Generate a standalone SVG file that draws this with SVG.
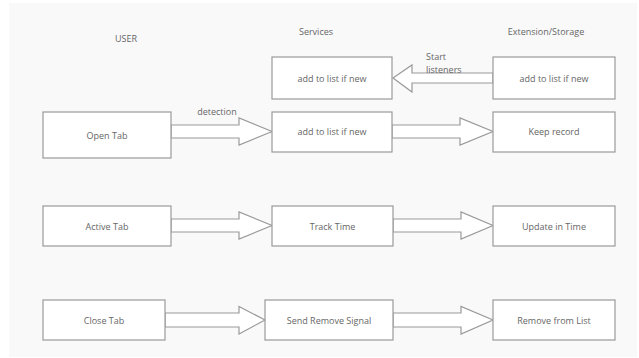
<svg xmlns="http://www.w3.org/2000/svg" width="639" height="358" viewBox="0 0 639 358">
<style>
.bg{fill:#f9f9fa}
.box{fill:#ffffff;stroke:#9a9a9a;stroke-width:1.2}
.arr{fill:#ffffff;stroke:#9a9a9a;stroke-width:1.2;stroke-linejoin:miter}
text{font-family:"Open Sans","Noto Sans","Liberation Sans",sans-serif;font-size:9px;fill:#666666}
.c{text-anchor:middle;dominant-baseline:central}
</style>
<rect x="0" y="0" width="639" height="358" fill="#ffffff"/>
<rect class="bg" x="9" y="3" width="628" height="354"/>
<g id="headers">
<text class="c" x="126" y="38">USER</text>
<text class="c" x="316" y="31">Services</text>
<text class="c" x="546" y="31">Extension/Storage</text>
</g>
<g id="connectors">
<polygon class="arr" points="493,73 412,73 412,65 393,78 412,92 412,83 493,83"/>
<text x="426" y="60">Start</text>
<text x="426" y="73">listeners</text>
<polygon class="arr" points="171,125 239,125 239,118 272,131.5 239,145 239,138 171,138"/>
<text class="c" x="217" y="111">detection</text>
<polygon class="arr" points="392,125 460,125 460,118 493,131.5 460,145 460,138 392,138"/>
<polygon class="arr" points="171,219 239,219 239,212 272,225.5 239,239 239,232 171,232"/>
<polygon class="arr" points="393,219 461,219 461,212 493,225.5 461,239 461,232 393,232"/>
<polygon class="arr" points="165,313 239,313 239,306.5 265,320 239,334 239,327 165,327"/>
<polygon class="arr" points="393,313 461,313 461,306.5 493,320 461,334 461,327 393,327"/>
</g>
<g id="s0"><rect class="box" x="272" y="57" width="120" height="42"/><text class="c" x="332" y="78">add to list if new</text></g>
<g id="e0"><rect class="box" x="493" y="57" width="122" height="42"/><text class="c" x="554" y="78">add to list if new</text></g>
<g id="u1"><rect class="box" x="43" y="112" width="128" height="46"/><text class="c" x="107" y="135">Open Tab</text></g>
<g id="s1"><rect class="box" x="272" y="112" width="120" height="40"/><text class="c" x="332" y="131.5">add to list if new</text></g>
<g id="e1"><rect class="box" x="493" y="112" width="122" height="40"/><text class="c" x="554" y="131.5">Keep record</text></g>
<g id="u2"><rect class="box" x="43" y="206" width="128" height="40"/><text class="c" x="107" y="226">Active Tab</text></g>
<g id="s2"><rect class="box" x="272" y="206" width="121" height="40"/><text class="c" x="332.5" y="226">Track Time</text></g>
<g id="e2"><rect class="box" x="493" y="206" width="122" height="40"/><text class="c" x="554" y="226">Update in Time</text></g>
<g id="u3"><rect class="box" x="43" y="300" width="122" height="40"/><text class="c" x="104" y="320">Close Tab</text></g>
<g id="s3"><rect class="box" x="265" y="300" width="128" height="40"/><text class="c" x="329" y="320">Send Remove Signal</text></g>
<g id="e3"><rect class="box" x="493" y="300" width="122" height="40"/><text class="c" x="554" y="320">Remove from List</text></g>
</svg>
